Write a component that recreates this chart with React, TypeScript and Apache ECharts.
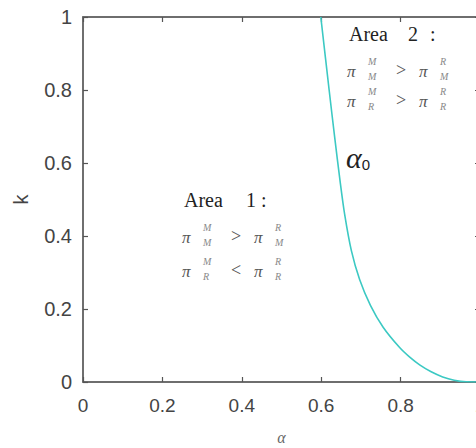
import React, { useEffect, useRef } from "react";
import * as echarts from "echarts";

const alphaValues = [0.599, 0.62, 0.634, 0.647, 0.659, 0.676, 0.697, 0.724, 0.756, 0.797, 0.823, 0.848, 0.877, 0.906, 0.935, 0.965, 1.0];
const kValues = [1.0, 0.8, 0.67, 0.555, 0.46, 0.36, 0.28, 0.21, 0.15, 0.095, 0.068, 0.047, 0.028, 0.014, 0.005, 0.0005, 0];
const xTicks = [0, 0.2, 0.4, 0.6, 0.8, 1];
const yTicks = [0, 0.2, 0.4, 0.6, 0.8, 1];

const SERIF = "'Liberation Serif', 'DejaVu Serif', serif";
const SANS = "'Liberation Sans', Arial, sans-serif";

function piTerm(x: number, y: number, sup: string, sub: string): any[] {
  return [
    { type: "text", x, y, style: { text: "π", font: `italic 17px ${SERIF}`, fill: "#555", verticalAlign: "middle" } },
    { type: "text", x: x + 21, y: y - 10, style: { text: sup, font: `italic 10px ${SERIF}`, fill: "#888", verticalAlign: "middle" } },
    { type: "text", x: x + 21, y: y + 5, style: { text: sub, font: `italic 10px ${SERIF}`, fill: "#888", verticalAlign: "middle" } },
  ];
}

function row(x: number, y: number, supL: string, subL: string, op: string, supR: string, subR: string): any[] {
  return [
    ...piTerm(x, y, supL, subL),
    { type: "text", x: x + 49, y: y - 1, style: { text: op, font: `18px ${SERIF}`, fill: "#555", verticalAlign: "middle" } },
    ...piTerm(x + 72, y, supR, subR),
  ];
}

function heading(x: number, y: number, num: string, numX: number, colonX: number): any[] {
  const st = (t: string) => ({ text: t, font: `20px ${SERIF}`, fill: "#222", verticalAlign: "middle" });
  return [
    { type: "text", x, y, style: st("Area") },
    { type: "text", x: numX, y, style: st(num) },
    { type: "text", x: colonX, y, style: st(":") },
  ];
}

const fmt = (list: number[]) => (v: number) => {
  const r = Math.round(v * 10) / 10;
  return list.includes(r) ? String(r) : "";
};

export default function App() {
  const ref = useRef<HTMLDivElement>(null);
  useEffect(() => {
    if (!ref.current) return;
    const chart = echarts.init(ref.current, null, { renderer: "svg" });
    const axisLine = { show: true, onZero: false, lineStyle: { color: "#666", width: 1.5 } };
    const tick = { show: true, inside: true, length: 5, lineStyle: { color: "#555", width: 1.2 } };
    chart.setOption({
      animation: false,
      backgroundColor: "#fff",
      grid: {
        left: 83, right: 1, top: 17, bottom: 66,
        containLabel: false, outerBoundsMode: "none",
        show: true, borderColor: "#666", borderWidth: 1.5, backgroundColor: "transparent",
      },
      xAxis: [
        {
          type: "value", min: 0, max: 1, interval: 0.2, position: "bottom",
          axisLine, axisTick: tick, splitLine: { show: false },
          axisLabel: { margin: 14, fontSize: 19, fontFamily: SANS, color: "#444", formatter: fmt(xTicks) },
          name: "α", nameLocation: "middle", nameGap: 47,
          nameTextStyle: { fontSize: 16, fontStyle: "italic", fontFamily: SERIF, color: "#666" },
        },
        {
          type: "value", min: 0, max: 1, interval: 0.2, position: "top",
          axisLine, axisTick: tick, axisLabel: { show: false }, splitLine: { show: false },
        },
      ],
      yAxis: [
        {
          type: "value", min: 0, max: 1, interval: 0.2, position: "left",
          axisLine, axisTick: tick, splitLine: { show: false },
          axisLabel: { margin: 11, fontSize: 20, fontFamily: SANS, color: "#444", formatter: fmt(yTicks) },
          name: "k", nameLocation: "middle", nameGap: 52, nameRotate: 90,
          nameTextStyle: { fontSize: 20, fontFamily: SANS, color: "#444" },
        },
        {
          type: "value", min: 0, max: 1, interval: 0.2, position: "right",
          axisLine, axisTick: tick, axisLabel: { show: false }, splitLine: { show: false },
        },
      ],
      series: [
        {
          type: "line",
          xAxisIndex: 0,
          yAxisIndex: 0,
          data: alphaValues.map((a, i) => [a, kValues[i]]),
          showSymbol: false,
          smooth: 0.3,
          lineStyle: { color: "#3CC9C3", width: 1.6 },
          z: 1,
        },
      ],
      graphic: [
        ...heading(349, 34, "2", 408, 430),
        ...row(347, 71, "M", "M", ">", "R", "M"),
        ...row(347, 101, "M", "R", ">", "R", "R"),
        ...heading(184, 200, "1", 246, 261),
        ...row(182, 237, "M", "M", ">", "R", "M"),
        ...row(182, 271, "M", "R", "<", "R", "R"),
        {
          type: "text", x: 346, y: 157,
          style: {
            text: "{a|α}{s|0}",
            verticalAlign: "middle",
            rich: {
              a: { font: `italic 30px ${SERIF}`, fill: "#222", verticalAlign: "middle" },
              s: { font: `15px ${SANS}`, fill: "#222", padding: [10, 0, 0, 0], verticalAlign: "bottom" },
            },
          },
        },
      ],
    });
    return () => chart.dispose();
  }, []);
  return (
    <div style={{ position: "fixed", left: 0, top: 0, width: 476, height: 448, overflow: "hidden", background: "#fff" }}>
      <div ref={ref} style={{ width: 481, height: 448 }} />
    </div>
  );
}
